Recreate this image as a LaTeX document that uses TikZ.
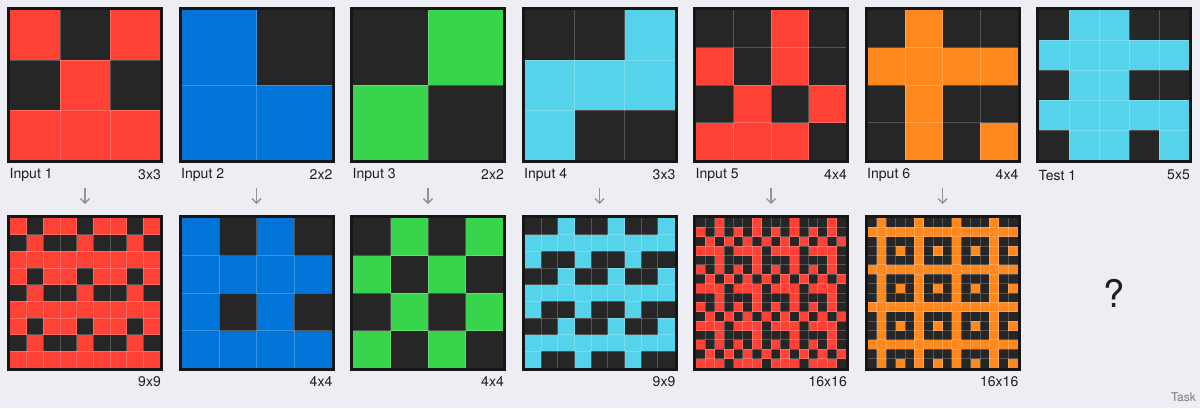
\documentclass[tikz,border=0pt]{standalone}
\usepackage{fontspec}
\setmainfont{TeX Gyre Heros}
\usepackage{xcolor}
\usetikzlibrary{arrows.meta}
\usetikzlibrary{math}

\definecolor{pagebg}{HTML}{EDEDF4}
\definecolor{arc0}{HTML}{262626}
\definecolor{arc1}{HTML}{0074D9}
\definecolor{arc2}{HTML}{FF4136}
\definecolor{arc3}{HTML}{38D44B}
\definecolor{arc7}{HTML}{FF891F}
\definecolor{arc8}{HTML}{55D3EB}
\definecolor{frame}{HTML}{161616}
\definecolor{textdark}{HTML}{1E1E1E}

\tikzset{
  cellline/.style={white, opacity=0.22, line width=0.8},
  gridframe/.style={draw=frame, line width=3},
  caption/.style={inner sep=0, text=textdark, font=\fontsize{14}{16}\selectfont},
  flowarrow/.style={draw=gray!85, line width=1.3, -{Straight Barb[length=4.5pt, width=9pt]}}
}

% #1,#2 top left of cells, #3 pattern size, #4 copies per side, #5 rows
\newcommand{\arcgrid}[5]{
  \pgfmathsetmacro\cs{150/(#3*#4)}
  \pgfmathtruncatemacro\nl{#3*#4-1}
  \foreach \ti in {1,...,#4}{
    \foreach \tj in {1,...,#4}{
      \foreach \row [count=\r from 0] in {#5}{
        \foreach \c [count=\k from 0] in \row{
          \fill[fill=arc\c] ({#1+((\tj-1)*#3+\k)*\cs},{#2+((\ti-1)*#3+\r)*\cs}) rectangle +(\cs,\cs);
        }
      }
    }
  }
  \foreach \k in {1,...,\nl}{
    \draw[cellline] ({#1+\k*\cs},#2) -- +(0,150);
    \draw[cellline] (#1,{#2+\k*\cs}) -- +(150,0);
  }
  \draw[gridframe] ({#1-1.5},{#2-1.5}) rectangle ({#1+151.5},{#2+151.5});
}

\begin{document}
\begin{tikzpicture}[x=1pt, y=-1pt]
\tikzmath{
\dx=171.5;
\ty=10;
\by=218;
}
\fill[pagebg] (0,0) rectangle (1200,408);
\useasboundingbox (0,0) rectangle (1200,408);

% inputs
\arcgrid{10}{\ty}{3}{1}{{2,0,2},{0,2,0},{2,2,2}}
\arcgrid{10+\dx}{\ty}{2}{1}{{1,0},{1,1}}
\arcgrid{10+2*\dx}{\ty}{2}{1}{{0,3},{3,0}}
\arcgrid{10+3*\dx}{\ty}{3}{1}{{0,0,8},{8,8,8},{8,0,0}}
\arcgrid{10+4*\dx}{\ty}{4}{1}{{0,0,2,0},{2,0,2,0},{0,2,0,2},{2,2,2,0}}
\arcgrid{10+5*\dx}{\ty}{4}{1}{{0,7,0,0},{7,7,7,7},{0,7,0,0},{0,7,0,7}}
\arcgrid{10+6*\dx}{\ty}{5}{1}{{0,8,8,0,0},{8,8,8,8,8},{0,8,8,0,0},{8,8,8,8,8},{0,8,8,0,8}}

% outputs
\arcgrid{10}{\by}{3}{3}{{2,0,2},{0,2,0},{2,2,2}}
\arcgrid{10+\dx}{\by}{2}{2}{{1,0},{1,1}}
\arcgrid{10+2*\dx}{\by}{2}{2}{{0,3},{3,0}}
\arcgrid{10+3*\dx}{\by}{3}{3}{{0,0,8},{8,8,8},{8,0,0}}
\arcgrid{10+4*\dx}{\by}{4}{4}{{0,0,2,0},{2,0,2,0},{0,2,0,2},{2,2,2,0}}
\arcgrid{10+5*\dx}{\by}{4}{4}{{0,7,0,0},{7,7,7,7},{0,7,0,0},{0,7,0,7}}

% captions and arrows
\foreach \n/\s/\o in {1/3x3/9x9, 2/2x2/4x4, 3/2x2/4x4, 4/3x3/9x9, 5/4x4/16x16, 6/4x4/16x16}{
  \node[caption, anchor=west] (in\n) at ({9.5+(\n-1)*\dx},175) {Input \n};
  \node[caption, anchor=east] (isz\n) at ({161+(\n-1)*\dx},175) {\s};
  \node[caption, anchor=east] (osz\n) at ({161+(\n-1)*\dx},382) {\o};
  \coordinate (a\n) at ({85+(\n-1)*\dx},187.5);
  \coordinate (b\n) at ({85+(\n-1)*\dx},204);
  \draw[flowarrow] (a\n) -- (b\n);
}
\node[caption, anchor=west] (test1) at ({9.5+6*\dx},175) {Test 1};
\node[caption, anchor=east] (tsz1) at ({161+6*\dx},175) {5x5};

\node[inner sep=0, text=textdark, font=\fontsize{38}{40}\selectfont] (answer) at (1114,293) {?};
\node[inner sep=0, anchor=east, text=gray!95!black, font=\fontsize{12}{14}\selectfont] (task) at (1196,397) {Task};
\end{tikzpicture}
\end{document}
